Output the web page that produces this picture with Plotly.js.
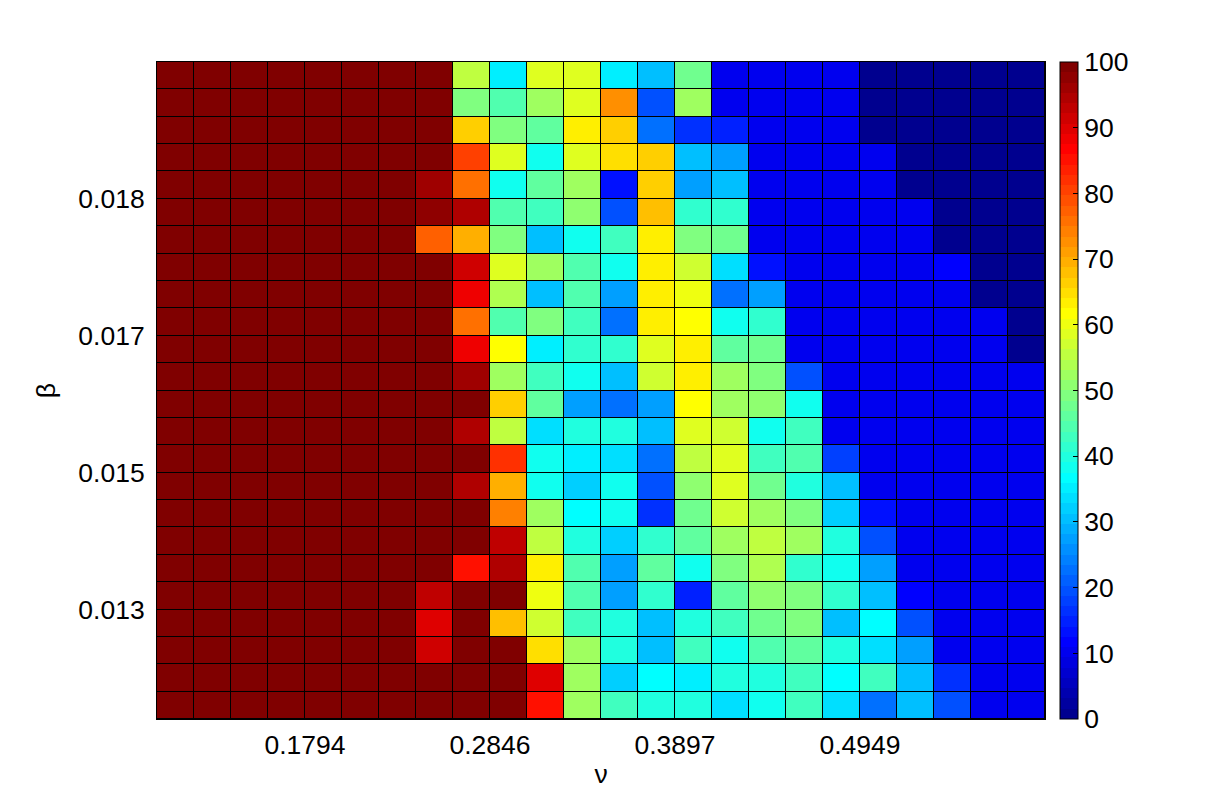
<!DOCTYPE html>
<html>
<head>
<meta charset="utf-8">
<script src="https://cdn.plot.ly/plotly-3.0.1.min.js"></script>
<style>html,body{margin:0;padding:0;background:#fff;}#chart{width:1211px;height:808px;}</style>
</head>
<body>
<div id="chart"></div>
<script>
// ν cell edges (25 edges -> 24 columns)
const nuEdges = [0.095328, 0.116356, 0.137384, 0.158412, 0.179440, 0.200468, 0.221496, 0.242524,
  0.263552, 0.284580, 0.305608, 0.326636, 0.347664, 0.368692, 0.389720, 0.410748, 0.431776,
  0.452804, 0.473832, 0.494860, 0.515888, 0.536916, 0.557944, 0.578972, 0.600000];
// β cell edges, bottom to top (25 edges -> 24 rows)
const betaEdges = [0.012000, 0.012333, 0.012667, 0.013000, 0.013333, 0.013667, 0.014000, 0.014333,
  0.014667, 0.015000, 0.015333, 0.015667, 0.016000, 0.016333, 0.016667, 0.017000, 0.017333,
  0.017667, 0.018000, 0.018333, 0.018667, 0.019000, 0.019333, 0.019667, 0.020000];
const nuTickIdx = [4, 9, 14, 19];
const nuTickText = ["0.1794", "0.2846", "0.3897", "0.4949"];
const betaTickIdx = [4, 9, 14, 19];
const betaTickText = ["0.013", "0.015", "0.017", "0.018"];
const cbTicks = [0, 10, 20, 30, 40, 50, 60, 70, 80, 90, 100];

// values, rows listed from top (largest β) to bottom (smallest β)
const valuesTopDown = [
  [100,100,100,100,100,100,100,100, 55, 35, 58, 58, 35, 30, 47, 10, 10, 10, 10,  1,  1,  1,  1,  1],
  [100,100,100,100,100,100,100,100, 49, 45, 53, 58, 73, 20, 53, 10, 10, 10, 10,  1,  1,  1,  1,  1],
  [100,100,100,100,100,100,100,100, 66, 49, 46,62.5,67, 23, 16,15.5,10, 10, 10,  1,  1,  1,  1,  1],
  [100,100,100,100,100,100,100,100, 81, 58,37.5,58,64.5,66,30.6,26.7,10,10, 10, 10,  1,  1,  1,  1],
  [100,100,100,100,100,100,100, 96, 76,37.5,46, 53,12.5,67, 27, 30, 10, 10, 10, 10,  1,  1,  1,  1],
  [100,100,100,100,100,100,100, 97,94.4,44,42.5,50, 20,67.5,41, 41, 10, 10, 10, 10, 10,  1,  1,  1],
  [100,100,100,100,100,100,100,77.7,69, 49,29.7,37.5,42.5,64,49, 47, 10, 10, 10, 10, 10,  1,  1,  1],
  [100,100,100,100,100,100,100,100, 91, 59, 53, 44,37.5,64,56.6,33,12.5,10, 10, 10, 10, 11,  1,  1],
  [100,100,100,100,100,100,100,100,87.5,54, 31, 44, 27,62.5,60, 22, 28, 10, 10, 10, 10, 10,  1,  1],
  [100,100,100,100,100,100,100,100, 76, 45,49.5,42.5,23,62.5,61,37.5,41,10, 10, 10, 10, 10, 10,  1],
  [100,100,100,100,100,100,100,100,87.5,61,34.5,41, 41, 59,62.5,46, 47, 10, 10, 10, 10, 10, 10,  1],
  [100,100,100,100,100,100,100,100, 96, 52,42.5,39, 31, 57,62.5,52, 49, 20, 10, 10, 10, 10, 10, 10],
  [100,100,100,100,100,100,100, 99,100, 66, 46, 27, 23, 28, 61, 52, 50,37.5,10, 10, 10, 10, 10, 10],
  [100,100,100,100,100,100,100,100, 95, 55,33.5,39.5,40.5,31,59,57.5,37.5,42.5,10,10,10, 10, 10, 10],
  [100,100,100,100,100,100,100,100,100,82.6,37.5,35.5,34,23,55, 59,42.5,44, 18, 10, 10, 10, 10, 10],
  [100,100,100,100,100,100,100,100, 94, 69,37.5,32.5,37.5,20,50,58, 47,39.5,30, 10, 10, 10, 10, 10],
  [100,100,100,100,100,100,100, 99,100,73.8,52, 36,37.5,16, 47, 57, 52,49.5,32.5,12.5,10,10, 10, 10],
  [100,100,100,100,100,100,100,100,100,92.5,55,39.5,32.5,41.5,46,53,55.6,53,39.5,20, 10, 10, 10, 10],
  [100,100,100,100,100,100,100,100,85.5,94, 64, 44, 28, 46,37.5,49.5,53.7,41,37.5,27,10, 10, 10, 10],
  [100,100,100,100,100,100,100,92.5,100,100,59.5,44,28,41.5,15.5,46,50,49.5,41.5,30.6,12,10, 10, 10],
  [100,100,100,100,100,100,100,89.5,100,68.5,56.6,42.5,39.5,31,40.5,42.5,47,49.5,31,36,20,10,10,10],
  [100,100,100,100,100,100,100,91.5,100,100,65.5,52,39.5,31,43.5,37.5,44,46,40.5,33.5,27,10,10,10],
  [100,100,100,100,100,100,100,100,100,100,89.5,52,32.5,36.5,35.5,40.5,39.5,42.5,36.5,43.5,30.6,16,10,10],
  [100,100,100,100,100,100,100,100,100,100,84.5,52,42.5,39.5,39.5,33.5,37.5,42.5,33.5,23,29.7,20,10,10]
];

// MATLAB jet(64) as a stepped colorscale
function jet64() {
  const cs = [];
  for (let i = 1; i <= 64; i++) {
    let r, g, b;
    b = i <= 8 ? 0.5 + i / 16 : (i <= 24 ? 1 : (i <= 40 ? 1 - (i - 24) / 16 : 0));
    g = i <= 8 ? 0 : (i <= 24 ? (i - 8) / 16 : (i <= 40 ? 1 : (i <= 56 ? 1 - (i - 40) / 16 : 0)));
    r = i <= 24 ? 0 : (i <= 40 ? (i - 24) / 16 : (i <= 56 ? 1 : 1 - (i - 56) / 16));
    const c = 'rgb(' + Math.round(r * 255) + ',' + Math.round(g * 255) + ',' + Math.round(b * 255) + ')';
    cs.push([(i - 1) / 64, c]);
    cs.push([i / 64, c]);
  }
  return cs;
}

const z = valuesTopDown.slice().reverse();
const FONT = 'Liberation Sans, Arial, Helvetica, sans-serif';
const FS = 26.5;

const trace = {
  type: 'heatmap',
  x: nuEdges,
  y: betaEdges,
  z: z,
  zmin: 0, zmax: 100,
  colorscale: jet64(),
  xgap: 1, ygap: 1,
  hoverinfo: 'x+y+z',
  colorbar: {
    thickness: 18, thicknessmode: 'pixels',
    len: 1, lenmode: 'fraction',
    x: 1.0169, xanchor: 'left', xpad: 0,
    y: 0.5, yanchor: 'middle', ypad: 0,
    outlinewidth: 1, outlinecolor: '#000',
    tickmode: 'array', tickvals: cbTicks, ticktext: cbTicks.map(String),
    ticks: 'inside', ticklen: 5, tickcolor: '#000',
    tickfont: {family: FONT, size: FS, color: '#000'}
  }
};

const layout = {
  width: 1211, height: 808,
  margin: {l: 157, r: 166, t: 62, b: 89},
  paper_bgcolor: '#fff',
  plot_bgcolor: '#000',
  font: {family: FONT, color: '#000'},
  xaxis: {
    range: [nuEdges[0], nuEdges[24]],
    tickmode: 'array',
    tickvals: nuTickIdx.map(i => nuEdges[i]),
    ticktext: nuTickText,
    ticks: '', showgrid: false, zeroline: false,
    showline: true, mirror: true, linecolor: '#000', linewidth: 1,
    tickfont: {family: FONT, size: FS, color: '#000'},
    ticklabelstandoff: 2,
    title: {text: 'ν', font: {family: FONT, size: FS, color: '#000'}, standoff: 5}
  },
  yaxis: {
    range: [betaEdges[0], betaEdges[24]],
    tickmode: 'array',
    tickvals: betaTickIdx.map(i => betaEdges[i]),
    ticktext: betaTickText,
    ticks: '', showgrid: false, zeroline: false,
    showline: true, mirror: true, linecolor: '#000', linewidth: 1,
    tickfont: {family: FONT, size: FS, color: '#000'},
    ticklabelstandoff: 6,
    title: {text: 'β', font: {family: FONT, size: FS, color: '#000'}, standoff: 15}
  }
};

Plotly.newPlot('chart', [trace], layout, {displayModeBar: false, staticPlot: true});
</script>
</body>
</html>
